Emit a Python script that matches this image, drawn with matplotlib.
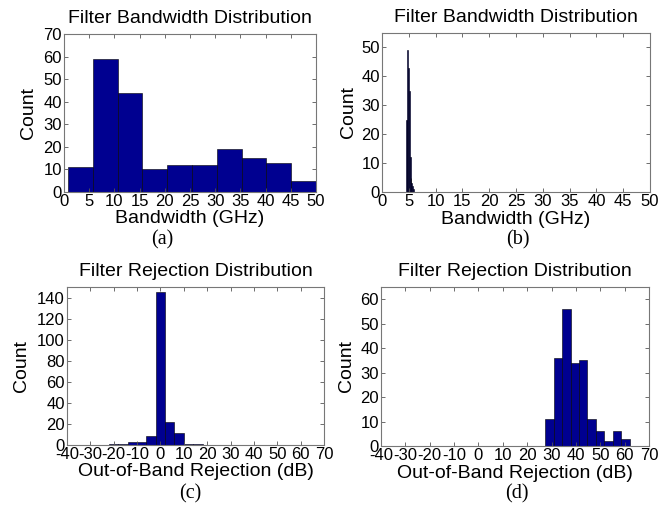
import numpy as np
import matplotlib.pyplot as plt

# (a) bandwidth histogram, measured filters
bw_edges_a = np.linspace(0.8, 50, 11)
bw_counts_a = [11, 59, 44, 10, 12, 12, 19, 15, 13, 5]

# (b) bandwidth histogram, tuned filters
bw_edges_b = np.linspace(4.45, 5.9, 11)
bw_counts_b = [25, 25, 49, 43, 35, 12, 5, 3, 2, 1]

# (c) rejection histogram
rej_edges_c = np.linspace(-22, 18, 11)
rej_counts_c = [1, 1, 3, 3, 9, 145, 22, 11, 1, 1]

# (d) rejection histogram
rej_edges_d = np.linspace(27.5, 62, 11)
rej_counts_d = [11, 36, 56, 34, 35, 11, 6, 2, 6, 3]

bw_ticks = list(range(0, 51, 5))
rej_ticks = list(range(-40, 71, 10))

plt.rcParams['font.family'] = ['Liberation Sans', 'DejaVu Sans']
plt.rcParams['axes.unicode_minus'] = False

W, H = 670, 508
fig = plt.figure(figsize=(W / 100, H / 100), dpi=100)


def box(l, r, t, b):
    return [l / W, 1 - b / H, (r - l) / W, (b - t) / H]


def panel(rect, edges, counts, title, xlabel, xlim, xticks, ylim, yticks, ylab_x):
    ax = fig.add_axes(rect)
    edges = np.asarray(edges)
    ax.bar(edges[:-1], counts, width=np.diff(edges), align='edge',
           color='#000090', edgecolor='black', linewidth=0.4)
    ax.set_xlim(xlim)
    ax.set_ylim(ylim)
    ax.set_xticks(xticks)
    ax.set_yticks(yticks)
    ax.tick_params(direction='in', length=3, width=0.6, color='#555555',
                   labelsize=12, top=True, right=True, pad=1.5)
    for s in ax.spines.values():
        s.set_color('#777777')
        s.set_linewidth(0.8)
    ax.set_title(title, fontsize=14, pad=8)
    ax.set_xlabel(xlabel, fontsize=14, va='center')
    ax.xaxis.set_label_coords(0.5, -0.17)
    ax.set_ylabel('Count', fontsize=14, va='center')
    ax.yaxis.set_label_coords(ylab_x, 0.5)
    return ax


panel(box(64, 316, 34, 192), bw_edges_a, bw_counts_a,
      'Filter Bandwidth Distribution', 'Bandwidth (GHz)',
      (0, 50), bw_ticks, (0, 70), range(0, 71, 10), -0.139)
panel(box(382, 650, 33, 192), bw_edges_b, bw_counts_b,
      'Filter Bandwidth Distribution', 'Bandwidth (GHz)',
      (0, 50), bw_ticks, (0, 55), range(0, 51, 10), -0.125)
panel(box(67, 324, 287, 445), rej_edges_c, rej_counts_c,
      'Filter Rejection Distribution', 'Out-of-Band Rejection (dB)',
      (-40, 70), rej_ticks, (0, 150), range(0, 141, 20), -0.176)
panel(box(381, 649, 287, 446), rej_edges_d, rej_counts_d,
      'Filter Rejection Distribution', 'Out-of-Band Rejection (dB)',
      (-40, 70), rej_ticks, (0, 65), range(0, 61, 10), -0.128)

for lab, x, y in [('(a)', 162, 240), ('(b)', 518, 240), ('(c)', 190, 494), ('(d)', 517, 494)]:
    fig.text(x / W, 1 - y / H, lab, ha='center', va='center', fontsize=14.5,
             family=['Liberation Serif', 'DejaVu Serif'])

fig.savefig('out.png', dpi=100)
